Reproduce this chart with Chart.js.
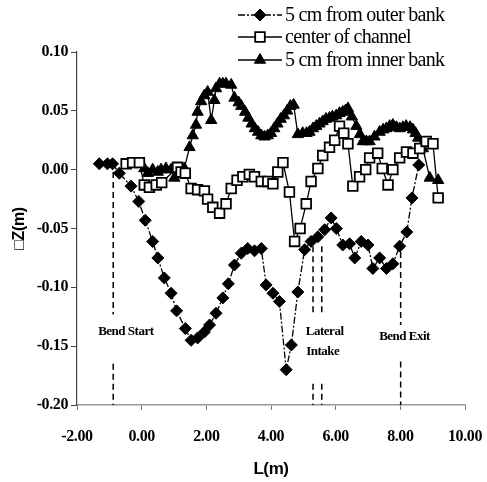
<!DOCTYPE html>
<html>
<head>
<meta charset="utf-8">
<script src="https://cdn.jsdelivr.net/npm/chart.js@4/dist/chart.umd.min.js"></script>
<style>body{margin:0;background:#fff}</style>
</head>
<body>
<canvas id="c" width="487" height="482"></canvas>
<script>
// 5 cm from outer bank
const outerX = [-1.31,-1.06,-0.90,-0.69,-0.33,-0.09,0.11,0.34,0.50,0.70,0.91,1.08,1.35,1.53,1.73,1.94,2.10,2.30,2.51,2.68,2.87,3.08,3.28,3.49,3.70,3.85,4.06,4.26,4.47,4.63,4.83,5.04,5.24,5.45,5.66,5.86,6.02,6.22,6.43,6.59,6.79,7.00,7.15,7.36,7.57,7.77,7.98,8.20,8.36,8.57];
const outerY = [0.005,0.005,0.005,-0.003,-0.014,-0.027,-0.043,-0.061,-0.075,-0.092,-0.105,-0.120,-0.135,-0.145,-0.143,-0.138,-0.132,-0.122,-0.109,-0.097,-0.081,-0.071,-0.067,-0.069,-0.067,-0.098,-0.105,-0.112,-0.170,-0.149,-0.104,-0.068,-0.061,-0.057,-0.051,-0.041,-0.050,-0.064,-0.063,-0.075,-0.061,-0.064,-0.084,-0.075,-0.084,-0.080,-0.065,-0.053,-0.024,0.004];
// center of channel
const centerX = [-0.48,-0.28,-0.07,0.08,0.24,0.45,0.62,1.11,1.22,1.35,1.53,1.73,1.94,2.04,2.20,2.41,2.61,2.77,2.95,3.13,3.33,3.49,3.70,3.90,4.06,4.21,4.37,4.57,4.73,4.90,5.09,5.24,5.45,5.60,5.81,5.97,6.12,6.25,6.38,6.53,6.74,6.93,7.05,7.30,7.44,7.62,7.77,7.98,8.19,8.39,8.60,8.80,9.01,9.17];
const centerY = [0.005,0.006,0.006,-0.013,-0.015,-0.013,-0.011,0.002,-0.002,-0.003,-0.016,-0.017,-0.018,-0.025,-0.032,-0.037,-0.029,-0.016,-0.009,-0.006,-0.004,-0.006,-0.010,-0.010,-0.012,-0.002,0.006,-0.019,-0.061,-0.050,-0.029,-0.010,0.001,0.012,0.019,0.025,0.037,0.031,0.022,-0.014,-0.006,0.000,0.010,0.014,0.001,-0.013,0.000,0.010,0.015,0.014,0.018,0.024,0.022,-0.024];
// 5 cm from inner bank
const innerX = [0.08,0.19,0.34,0.50,0.60,0.75,0.91,1.01,1.17,1.32,1.48,1.58,1.68,1.73,1.84,1.94,2.04,2.15,2.25,2.30,2.41,2.51,2.61,2.77,2.87,3.00,3.08,3.20,3.30,3.40,3.50,3.60,3.70,3.80,3.90,4.00,4.10,4.20,4.30,4.40,4.50,4.60,4.70,4.83,4.98,5.10,5.19,5.30,5.40,5.50,5.60,5.70,5.81,5.90,6.02,6.12,6.22,6.30,6.38,6.50,6.64,6.75,6.84,6.95,7.05,7.20,7.36,7.47,7.57,7.67,7.77,7.88,7.98,8.08,8.18,8.30,8.39,8.47,8.55,8.70,8.91,9.17];
const innerY = [0.001,-0.003,0.000,-0.002,0.000,0.001,0.000,-0.007,-0.004,0.001,0.019,0.029,0.038,0.049,0.058,0.063,0.066,0.042,0.059,0.069,0.073,0.073,0.073,0.072,0.061,0.057,0.054,0.049,0.044,0.039,0.035,0.032,0.029,0.028,0.029,0.031,0.035,0.039,0.043,0.046,0.050,0.054,0.055,0.030,0.031,0.031,0.032,0.035,0.037,0.039,0.041,0.043,0.044,0.045,0.046,0.048,0.049,0.050,0.052,0.045,0.037,0.030,0.024,0.024,0.024,0.028,0.032,0.034,0.035,0.037,0.038,0.036,0.035,0.036,0.037,0.036,0.034,0.031,0.027,0.018,-0.007,-0.009];

const xTicks = [-2, 0, 2, 4, 6, 8, 10];
const yTicks = [-0.20, -0.15, -0.10, -0.05, 0.00, 0.05, 0.10];

// vertical marker lines (x, upper dash from/to, lower dash from/to)
const markX = [-0.88, 5.30, 5.57, 8.01];
const markTop = [-0.002, -0.065, -0.065, -0.070];
const markMid1 = [-0.123, -0.123, -0.123, -0.132];
const markMid2 = [-0.165, -0.182, -0.182, -0.163];
const markBot = [-0.20, -0.20, -0.20, -0.20];

const noteText = ['Bend Start', 'Lateral', 'Intake', 'Bend Exit'];
const noteX = [-0.49, 5.66, 5.60, 8.13];
const noteY = [-0.138, -0.138, -0.155, -0.142];

function pts(xs, ys){ return xs.map((x,i)=>({x:x, y:ys[i]})); }

const sets = [
  {label:'5 cm from outer bank', data:pts(outerX, outerY), borderColor:'#000', borderWidth:1.3,
   borderDash:[7,2,2,2], pointStyle:'rectRot', pointRadius:6, pointBackgroundColor:'#000',
   pointBorderColor:'#000', pointBorderWidth:1, order:1},
  {label:'center of channel', data:pts(centerX, centerY), borderColor:'#000', borderWidth:1.3,
   pointStyle:'rect', pointRadius:6.8, pointBackgroundColor:'#fff',
   pointBorderColor:'#000', pointBorderWidth:1.8, order:2},
  {label:'5 cm from inner bank', data:pts(innerX, innerY), borderColor:'#000', borderWidth:1.3,
   pointStyle:'triangle', pointRadius:6.5, pointBackgroundColor:'#000',
   pointBorderColor:'#000', pointBorderWidth:1, order:3}
];
markX.forEach((x,i)=>{
  sets.push({label:'', data:[{x:x,y:markTop[i]},{x:x,y:markMid1[i]},{x:x,y:null},{x:x,y:markMid2[i]},{x:x,y:markBot[i]}],
    borderColor:'#000', borderWidth:1.5, borderDash:[6,4], pointRadius:0, spanGaps:false, order:4});
});

const extras = {
  id:'extras',
  beforeDraw(chart){ chart.ctx.letterSpacing = '-0.4px'; },
  afterDraw(chart){
    const ctx = chart.ctx, xs = chart.scales.x, ys = chart.scales.y;
    ctx.save();
    ctx.fillStyle = '#000';
    ctx.textAlign = 'center';
    ctx.textBaseline = 'middle';
    ctx.font = 'bold 13px "Liberation Serif"';
    ctx.letterSpacing = '-0.5px';
    noteText.forEach((t,i)=>{
      ctx.fillText(t, xs.getPixelForValue(noteX[i]), ys.getPixelForValue(noteY[i]));
    });
    // legend
    const rows = [15, 37, 60];
    ctx.font = '20px "Liberation Serif"';
    ctx.letterSpacing = '-0.7px';
    ctx.textAlign = 'left';
    for (let i = 0; i < 3; i++) {
      const ds = chart.data.datasets[i], y = rows[i];
      ctx.strokeStyle = '#000';
      ctx.lineWidth = 1.3;
      ctx.setLineDash(ds.borderDash || []);
      ctx.beginPath(); ctx.moveTo(238, y); ctx.lineTo(282, y); ctx.stroke();
      ctx.setLineDash([]);
      ctx.fillStyle = ds.pointBackgroundColor;
      ctx.strokeStyle = ds.pointBorderColor;
      ctx.lineWidth = ds.pointBorderWidth;
      Chart.helpers.drawPoint(ctx, {pointStyle:ds.pointStyle, radius:ds.pointRadius, rotation:0, borderWidth:ds.pointBorderWidth}, 260, y);
      ctx.fillStyle = '#000';
      ctx.fillText(ds.label, 285, y + 1);
    }
    ctx.restore();
  }
};

const tickFont = {family:'"Liberation Serif"', size:16, weight:'bold'};

new Chart(document.getElementById('c'), {
  type:'line',
  data:{datasets:sets},
  options:{
    responsive:false,
    animation:false,
    layout:{padding:{top:52, right:22, left:0, bottom:0}},
    plugins:{legend:{display:false}, tooltip:{enabled:false}},
    scales:{
      x:{
        type:'linear', min:-2, max:10,
        afterBuildTicks:s=>{ s.ticks = xTicks.map(v=>({value:v})); },
        afterFit:s=>{ s.height = 77; s.paddingLeft = 0; s.paddingRight = 0; },
        ticks:{callback:v=>v.toFixed(2), font:tickFont, color:'#000', padding:17, maxRotation:0},
        grid:{display:true, drawOnChartArea:false, drawTicks:true, tickLength:5, color:'#777'},
        border:{display:true, color:'#999', width:1.5},
        title:{display:true, text:'L(m)', color:'#000', font:{family:'"Liberation Sans"', size:17, weight:'bold'}, padding:{top:0, bottom:2}}
      },
      y:{
        type:'linear', min:-0.2, max:0.1,
        afterBuildTicks:s=>{ s.ticks = yTicks.map(v=>({value:v})); },
        afterFit:s=>{ s.width = 77; },
        ticks:{callback:v=>v.toFixed(2), font:tickFont, color:'#000', padding:3},
        grid:{display:true, drawOnChartArea:false, drawTicks:true, tickLength:6, color:'#444'},
        border:{display:true, color:'#444', width:1.2},
        title:{display:true, text:'\u25A1Z(m)', color:'#000', font:{family:'"Liberation Sans"', size:16, weight:'bold'}, padding:{top:10, bottom:0}}
      }
    }
  },
  plugins:[extras]
});
</script>
</body>
</html>
